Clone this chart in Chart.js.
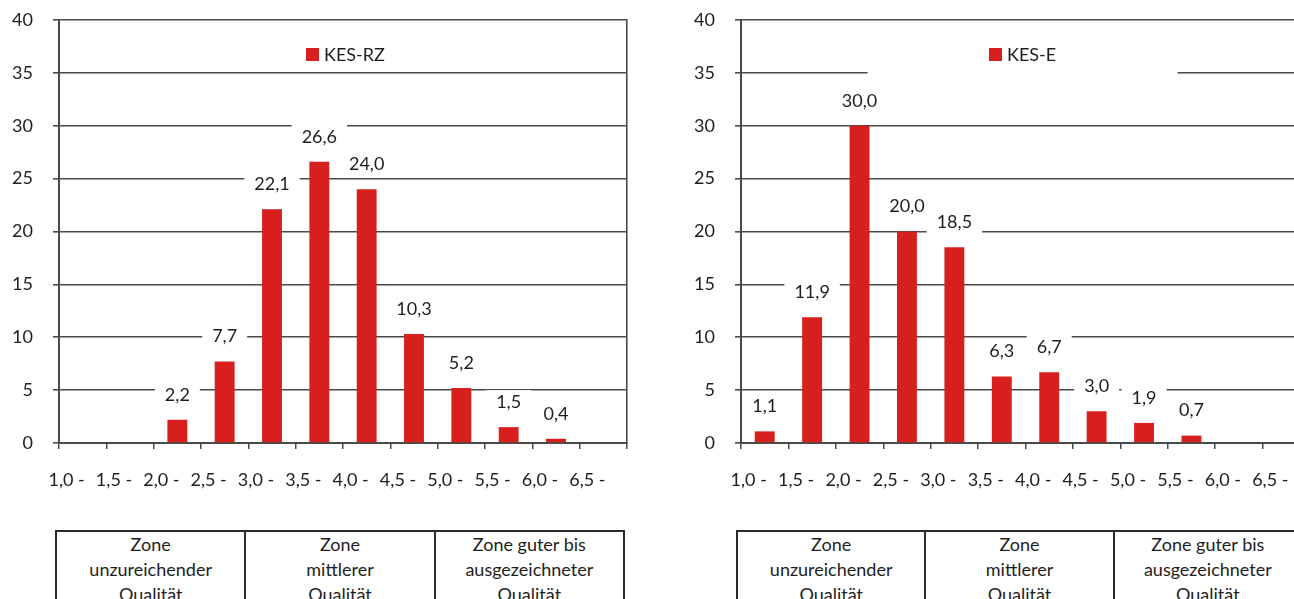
<!DOCTYPE html>
<html>
<head>
<meta charset="utf-8">
<script src="https://cdn.jsdelivr.net/npm/chart.js@4.4.1/dist/chart.umd.min.js"></script>
<style>
  body { margin: 0; background: #fff; width: 1294px; height: 599px; overflow: hidden; position: relative; font-family: Lato, "Open Sans", sans-serif; }
  .box { position: absolute; }
  .zones { position: absolute; top: 530px; height: 100px; display: flex; border: 2px solid #2a2a2a; box-sizing: border-box; }
  .zones div { flex: 1; text-align: center; font-size: 18px; line-height: 25px; color: #1e1e1e; padding-top: 0; border-left: 2px solid #2a2a2a; }
  .zones div:first-child { border-left: none; }
</style>
</head>
<body>
<div class="box" style="left:0; top:0; width:628px; height:493px;"><canvas id="chartRZ"></canvas></div>
<div class="box" style="left:682px; top:0; width:629px; height:493px;"><canvas id="chartE"></canvas></div>
<div class="zones" id="zonesRZ" style="left:55px; width:570px;"></div>
<div class="zones" id="zonesE" style="left:736px; width:567px;"></div>

<script>
// Klassen (Notenbereiche)
let categories = ['1,0 -', '1,5 -', '2,0 -', '2,5 -', '3,0 -', '3,5 -', '4,0 -', '4,5 -', '5,0 -', '5,5 -', '6,0 -', '6,5 -'];

// Anteile in Prozent
let valuesRZ = [null, null, 2.2, 7.7, 22.1, 26.6, 24.0, 10.3, 5.2, 1.5, 0.4, null];
let valuesE = [1.1, 11.9, 30.0, 20.0, 18.5, 6.3, 6.7, 3.0, 1.9, 0.7, null, null];

let yTicks = [0, 5, 10, 15, 20, 25, 30, 35, 40];

let zoneLabels = [
  ['Zone', 'unzureichender', 'Qualität'],
  ['Zone', 'mittlerer', 'Qualität'],
  ['Zone guter bis', 'ausgezeichneter', 'Qualität']
];

let barColor = '#d7201e';
let lineColor = '#4a4a4a';
let textColor = '#1e1e1e';
let fontFamily = 'Lato, "Open Sans", sans-serif';

function fillZones(id) {
  let el = document.getElementById(id);
  zoneLabels.forEach(lines => {
    let d = document.createElement('div');
    d.innerHTML = lines.join('<br>');
    el.appendChild(d);
  });
}

function noPadding(s) {
  s.paddingTop = 0;
  s.paddingBottom = 0;
  s.paddingLeft = 0;
  s.paddingRight = 0;
}

// Werte über den Balken mit weißem Hintergrund
let valueLabels = {
  id: 'valueLabels',
  beforeDatasetsDraw(chart) {
    let ctx = chart.ctx;
    ctx.save();
    ctx.font = '18px ' + fontFamily;
    chart.getDatasetMeta(0).data.forEach((bar, i) => {
      let v = chart.data.datasets[0].data[i];
      if (v === null) return;
      let txt = v.toFixed(1).replace('.', ',');
      let w = ctx.measureText(txt).width;
      ctx.fillStyle = '#fff';
      ctx.fillRect(bar.x - w / 2 - 10, bar.y - 25 - 12, w + 20, 24);
    });
    ctx.restore();
  },
  afterDatasetsDraw(chart) {
    let ctx = chart.ctx;
    ctx.save();
    ctx.font = '18px ' + fontFamily;
    ctx.fillStyle = textColor;
    ctx.textAlign = 'center';
    ctx.textBaseline = 'middle';
    chart.getDatasetMeta(0).data.forEach((bar, i) => {
      let v = chart.data.datasets[0].data[i];
      if (v === null) return;
      ctx.fillText(v.toFixed(1).replace('.', ','), bar.x, bar.y - 25);
    });
    ctx.restore();
  }
};

// Legende innerhalb der Zeichenfläche
let innerLegend = {
  id: 'innerLegend',
  afterDatasetsDraw(chart, args, opts) {
    let ctx = chart.ctx;
    let area = chart.chartArea;
    let ds = chart.data.datasets[0];
    ctx.save();
    ctx.font = '18px ' + fontFamily;
    let w = ctx.measureText(ds.label).width;
    let x = area.left + opts.x;
    let y = area.top + 34;
    if (opts.boxWidth) {
      ctx.fillStyle = '#fff';
      ctx.fillRect(x + (w + 18) / 2 - opts.boxWidth / 2, y - 16, opts.boxWidth, 44);
    }
    ctx.fillStyle = ds.backgroundColor;
    ctx.fillRect(x, y - 6, 13, 13);
    ctx.fillStyle = textColor;
    ctx.textBaseline = 'middle';
    ctx.fillText(ds.label, x + 18, y + 1);
    ctx.restore();
  }
};

function createChart(id, label, values, legendX, legendBox) {
  let ctx = document.getElementById(id).getContext('2d');
  return new Chart(ctx, {
    type: 'bar',
    data: {
      labels: categories,
      datasets: [{
        label: label,
        data: values,
        backgroundColor: barColor,
        categoryPercentage: 1,
        barPercentage: 0.42
      }]
    },
    options: {
      responsive: true,
      maintainAspectRatio: false,
      animation: false,
      layout: { padding: { top: 20, right: 1, left: 0, bottom: 0 } },
      plugins: {
        legend: { display: false },
        tooltip: { enabled: false },
        innerLegend: { x: legendX, boxWidth: legendBox }
      },
      scales: {
        x: {
          grid: { display: true, drawOnChartArea: false, drawTicks: true, tickLength: 6, color: lineColor, lineWidth: 1.5 },
          border: { display: true, color: lineColor, width: 2 },
          ticks: { color: textColor, font: { family: fontFamily, size: 18 }, padding: 20, labelOffset: -16, maxRotation: 0, autoSkip: false },
          afterFit: s => { s.height = 50; noPadding(s); }
        },
        y: {
          min: 0,
          max: 40,
          afterBuildTicks: s => { s.ticks = yTicks.map(v => ({ value: v })); },
          grid: { color: lineColor, lineWidth: 1.6, tickLength: 6 },
          border: { display: true, color: lineColor, width: 2 },
          ticks: { color: textColor, font: { family: fontFamily, size: 18 }, padding: 20 },
          afterFit: s => { s.width = 59; noPadding(s); }
        },
        y2: {
          position: 'right',
          min: 0,
          max: 40,
          grid: { display: false, drawOnChartArea: false },
          border: { display: true, color: lineColor, width: 1.6 },
          ticks: { display: false },
          afterFit: s => { s.width = 0; noPadding(s); }
        }
      }
    },
    plugins: [valueLabels, innerLegend]
  });
}

document.addEventListener('DOMContentLoaded', () => {
  createChart('chartRZ', 'KES-RZ', valuesRZ, 247, 0);
  createChart('chartE', 'KES-E', valuesE, 248, 310);
  fillZones('zonesRZ');
  fillZones('zonesE');
});
</script>
</body>
</html>
